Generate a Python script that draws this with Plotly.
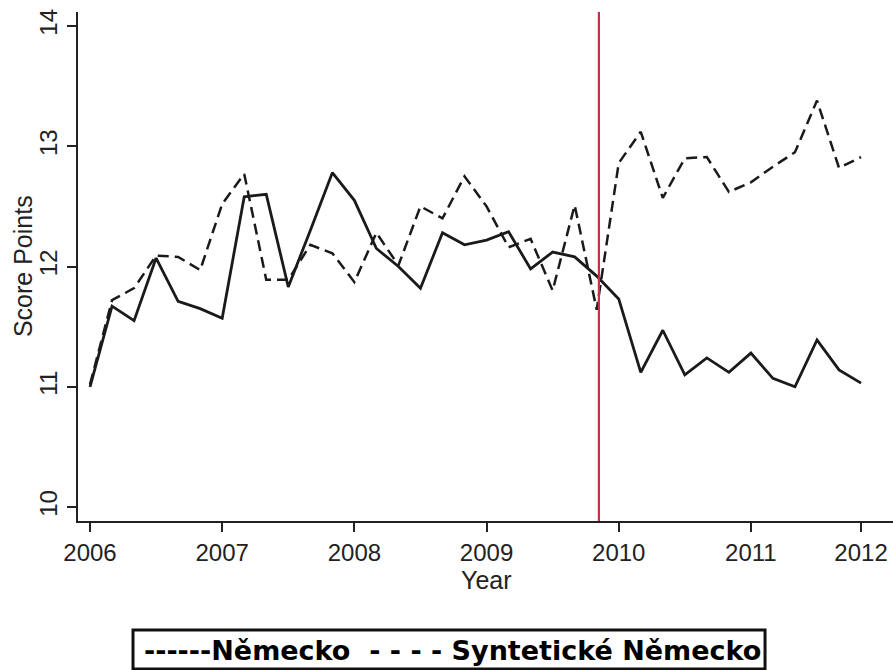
import plotly.graph_objects as go

# Bimonthly score points, 2006 to end of 2011
nemecko = [11.00, 11.67, 11.55, 12.07, 11.71, 11.65, 11.57, 12.58, 12.60, 11.83,
           12.30, 12.78, 12.55, 12.15, 12.00, 11.82, 12.28, 12.18, 12.22, 12.29,
           11.98, 12.12, 12.08, 11.92, 11.73, 11.12, 11.47, 11.10, 11.24, 11.12,
           11.28, 11.07, 11.00, 11.39, 11.14, 11.03]
synteticke = [11.02, 11.72, 11.82, 12.09, 12.08, 11.97, 12.52, 12.77, 11.89, 11.89,
              12.18, 12.11, 11.87, 12.28, 12.01, 12.50, 12.40, 12.75, 12.50, 12.16,
              12.23, 11.80, 12.51, 11.64, 12.86, 13.12, 12.57, 12.90, 12.91, 12.62,
              12.70, 12.83, 12.95, 13.38, 12.82, 12.91]

tick_pos = [0, 6, 12, 18, 24, 30, 35]
tick_labels = ["2006", "2007", "2008", "2009", "2010", "2011", "2012"]
y_ticks = [10, 11, 12, 13, 14]
intervention = 23.1

obs = list(range(len(nemecko)))

fig = go.Figure()
fig.add_trace(go.Scatter(x=obs, y=nemecko, mode="lines", name="Německo",
                         line=dict(color="#1a1a1a", width=2.8)))
fig.add_trace(go.Scatter(x=obs, y=synteticke, mode="lines", name="Syntetické Německo",
                         line=dict(color="#1a1a1a", width=2.5, dash="11px,6px")))

# Treatment date marker
fig.add_shape(type="line", xref="x", yref="paper", x0=intervention, x1=intervention,
              y0=0, y1=1, line=dict(color="#c9304a", width=2.2))

# Legend box below the chart
fig.add_shape(type="rect", xref="paper", yref="paper", x0=0.0675, x1=0.843,
              y0=-0.291, y1=-0.214, line=dict(color="#111111", width=3),
              fillcolor="white")
fig.add_annotation(xref="paper", yref="paper", x=0.459, y=-0.255,
                   text="<b>------Německo  - - - - Syntetické Německo</b>",
                   showarrow=False, xanchor="center", yanchor="middle",
                   font=dict(family="DejaVu Sans", size=27, color="#000000"),
                   )

tick_font = dict(family="Liberation Sans, Arial", size=24, color="#222222")
title_font = dict(family="Liberation Sans, Arial", size=25, color="#222222")

fig.add_annotation(xref="x", yref="paper", x=18, y=-0.085, text="Year",
                   showarrow=False, xanchor="center", yanchor="top",
                   font=title_font)
fig.add_annotation(xref="paper", yref="paper", x=-0.068, y=0.5, text="Score Points",
                   showarrow=False, textangle=-90, xanchor="center", yanchor="middle",
                   font=title_font)

fig.update_layout(
    width=893, height=670,
    margin=dict(l=78, r=0, t=12, b=149),
    paper_bgcolor="white", plot_bgcolor="white",
    showlegend=False,
    font=tick_font,
)
fig.update_xaxes(range=[-0.545, 36.45], tickvals=tick_pos, ticktext=tick_labels,
                 showgrid=False, zeroline=False, showline=True, linecolor="#222222",
                 linewidth=2, ticks="outside", ticklen=9, tickwidth=2,
                 tickcolor="#222222", tickfont=tick_font)
fig.update_yaxes(range=[9.884, 14.116], tickvals=y_ticks, tickangle=-90,
                 showgrid=False, zeroline=False, showline=True, linecolor="#222222",
                 linewidth=2, ticks="outside", ticklen=9, tickwidth=2,
                 tickcolor="#222222", tickfont=tick_font)

fig.write_html("out.html")
